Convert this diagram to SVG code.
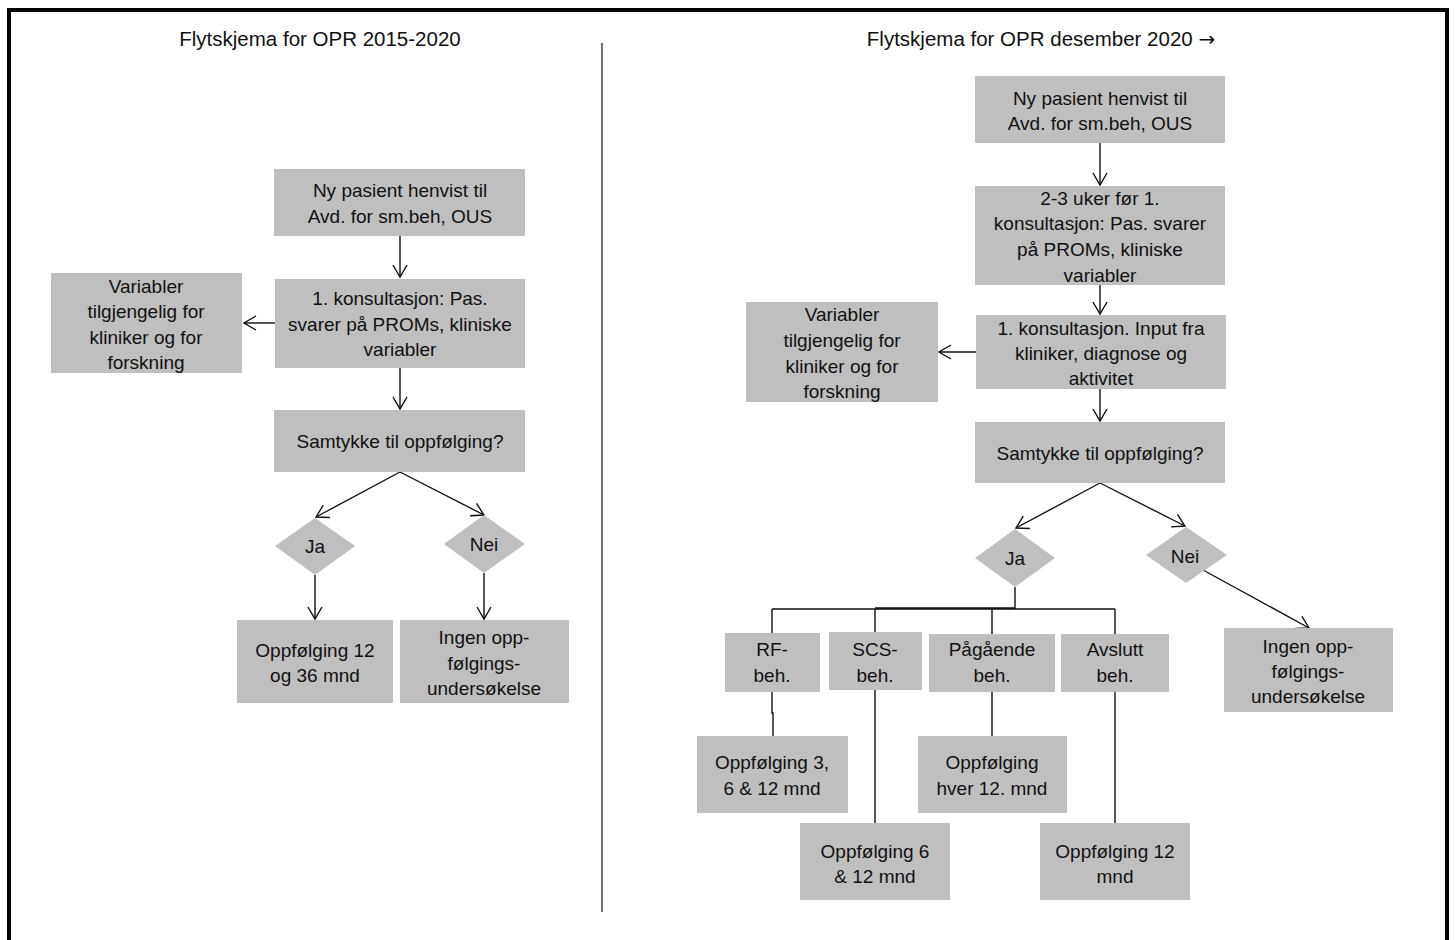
<svg xmlns="http://www.w3.org/2000/svg" width="1455" height="940" viewBox="0 0 1455 940">
<style>
.box{fill:#bfbfbf}
.t{font-family:"Liberation Sans",Arial,sans-serif;font-size:19px;fill:#111;text-anchor:middle}
.title{font-family:"Liberation Sans",Arial,sans-serif;font-size:20.5px;fill:#111;text-anchor:middle}
.c{stroke:#111;stroke-width:1.4;fill:none}
.a{marker-end:url(#arr)}
</style>
<defs>
<marker id="arr" markerUnits="userSpaceOnUse" markerWidth="16" markerHeight="18" refX="13" refY="8" orient="auto">
<path d="M1,1 L13,8 L1,15" fill="none" stroke="#111" stroke-width="1.4"/>
</marker>
</defs>
<rect x="0" y="0" width="1455" height="940" fill="#fff"/>
<rect x="9" y="10" width="1438" height="1000" fill="none" stroke="#000" stroke-width="4"/>
<line x1="602" y1="43" x2="602" y2="912" stroke="#111" stroke-width="1.2"/>
<text class="title" x="320" y="46">Flytskjema for OPR 2015-2020</text>
<text class="title" x="1041" y="46">Flytskjema for OPR desember 2020 <tspan font-family="DejaVu Sans, sans-serif" font-size="20">→</tspan></text>

<g id="connectors">
<line class="c a" x1="400" y1="236" x2="400" y2="277"/>
<line class="c a" x1="275" y1="323" x2="244" y2="323"/>
<line class="c a" x1="400" y1="368" x2="400" y2="409"/>
<line class="c a" x1="400" y1="472" x2="316" y2="517"/>
<line class="c a" x1="400" y1="472" x2="484" y2="515"/>
<line class="c a" x1="315" y1="575" x2="315" y2="619"/>
<line class="c a" x1="484" y1="573" x2="484" y2="619"/>

<line class="c a" x1="1100" y1="143" x2="1100" y2="185"/>
<line class="c a" x1="1100" y1="285" x2="1100" y2="314"/>
<line class="c a" x1="976" y1="352" x2="939" y2="352"/>
<line class="c a" x1="1100" y1="389" x2="1100" y2="421"/>
<line class="c a" x1="1100" y1="483" x2="1016" y2="528"/>
<line class="c a" x1="1100" y1="483" x2="1185" y2="526"/>
<line class="c a" x1="1203" y1="570" x2="1309" y2="628"/>
<path class="c" d="M1015,587 V609 M772,609 H1115 M875,608 H1015 M772,609 V633 M875,609 V632 M992,609 V634 M1115,609 V634"/>
<path class="c" d="M772,692 V713 H773 V736 M875,690 V823 M992,692 V736 M1115,692 V823"/>
</g>

<g id="l-new">
<rect class="box" x="274" y="169" width="251" height="67"/>
<text class="t" x="400" y="197">Ny pasient henvist til</text>
<text class="t" x="400" y="223">Avd. for sm.beh, OUS</text>
</g>
<g id="l-kons">
<rect class="box" x="275" y="279" width="250" height="89"/>
<text class="t" x="400" y="305">1. konsultasjon: Pas.</text>
<text class="t" x="400" y="331">svarer på PROMs, kliniske</text>
<text class="t" x="400" y="356">variabler</text>
</g>
<g id="l-var">
<rect class="box" x="51" y="273" width="191" height="100"/>
<text class="t" x="146" y="293">Variabler</text>
<text class="t" x="146" y="318">tilgjengelig for</text>
<text class="t" x="146" y="344">kliniker og for</text>
<text class="t" x="146" y="369">forskning</text>
</g>
<g id="l-samtykke">
<rect class="box" x="274" y="410" width="251" height="62"/>
<text class="t" x="400" y="448">Samtykke til oppfølging?</text>
</g>
<g id="l-ja">
<polygon class="box" points="315,518 355,546 315,575 275,546"/>
<text class="t" x="315" y="553">Ja</text>
</g>
<g id="l-nei">
<polygon class="box" points="484,515 525,544 484,573 444,544"/>
<text class="t" x="484" y="551">Nei</text>
</g>
<g id="l-opp">
<rect class="box" x="237" y="620" width="156" height="83"/>
<text class="t" x="315" y="657">Oppfølging 12</text>
<text class="t" x="315" y="682">og 36 mnd</text>
</g>
<g id="l-ingen">
<rect class="box" x="400" y="620" width="169" height="83"/>
<text class="t" x="484" y="644">Ingen opp-</text>
<text class="t" x="484" y="670">følgings-</text>
<text class="t" x="484" y="695">undersøkelse</text>
</g>

<g id="r-new">
<rect class="box" x="975" y="76" width="250" height="67"/>
<text class="t" x="1100" y="105">Ny pasient henvist til</text>
<text class="t" x="1100" y="130">Avd. for sm.beh, OUS</text>
</g>
<g id="r-pre">
<rect class="box" x="975" y="186" width="250" height="99"/>
<text class="t" x="1100" y="205">2-3 uker før 1.</text>
<text class="t" x="1100" y="230">konsultasjon: Pas. svarer</text>
<text class="t" x="1100" y="256">på PROMs, kliniske</text>
<text class="t" x="1100" y="282">variabler</text>
</g>
<g id="r-kons">
<rect class="box" x="976" y="315" width="250" height="74"/>
<text class="t" x="1101" y="335">1. konsultasjon. Input fra</text>
<text class="t" x="1101" y="360">kliniker, diagnose og</text>
<text class="t" x="1101" y="385">aktivitet</text>
</g>
<g id="r-var">
<rect class="box" x="746" y="302" width="192" height="100"/>
<text class="t" x="842" y="321">Variabler</text>
<text class="t" x="842" y="347">tilgjengelig for</text>
<text class="t" x="842" y="373">kliniker og for</text>
<text class="t" x="842" y="398">forskning</text>
</g>
<g id="r-samtykke">
<rect class="box" x="975" y="422" width="250" height="61"/>
<text class="t" x="1100" y="460">Samtykke til oppfølging?</text>
</g>
<g id="r-ja">
<polygon class="box" points="1015,529 1055,558 1015,587 975,558"/>
<text class="t" x="1015" y="565">Ja</text>
</g>
<g id="r-nei">
<polygon class="box" points="1186,527 1227,555 1186,583 1146,555"/>
<text class="t" x="1185" y="563">Nei</text>
</g>
<g id="r-ingen">
<rect class="box" x="1224" y="628" width="169" height="84"/>
<text class="t" x="1308" y="653">Ingen opp-</text>
<text class="t" x="1308" y="678">følgings-</text>
<text class="t" x="1308" y="703">undersøkelse</text>
</g>
<g id="r-rf">
<rect class="box" x="725" y="633" width="95" height="59"/>
<text class="t" x="772" y="656">RF-</text>
<text class="t" x="772" y="682">beh.</text>
</g>
<g id="r-scs">
<rect class="box" x="829" y="632" width="93" height="58"/>
<text class="t" x="875" y="656">SCS-</text>
<text class="t" x="875" y="682">beh.</text>
</g>
<g id="r-pag">
<rect class="box" x="929" y="634" width="126" height="58"/>
<text class="t" x="992" y="656">Pågående</text>
<text class="t" x="992" y="682">beh.</text>
</g>
<g id="r-avs">
<rect class="box" x="1061" y="634" width="108" height="58"/>
<text class="t" x="1115" y="656">Avslutt</text>
<text class="t" x="1115" y="682">beh.</text>
</g>
<g id="r-opp3">
<rect class="box" x="697" y="736" width="151" height="77"/>
<text class="t" x="772" y="769">Oppfølging 3,</text>
<text class="t" x="772" y="795">6 &amp; 12 mnd</text>
</g>
<g id="r-opphver">
<rect class="box" x="918" y="736" width="149" height="77"/>
<text class="t" x="992" y="769">Oppfølging</text>
<text class="t" x="992" y="795">hver 12. mnd</text>
</g>
<g id="r-opp6">
<rect class="box" x="800" y="823" width="150" height="77"/>
<text class="t" x="875" y="858">Oppfølging 6</text>
<text class="t" x="875" y="883">&amp; 12 mnd</text>
</g>
<g id="r-opp12">
<rect class="box" x="1040" y="823" width="150" height="77"/>
<text class="t" x="1115" y="858">Oppfølging 12</text>
<text class="t" x="1115" y="883">mnd</text>
</g>
</svg>
